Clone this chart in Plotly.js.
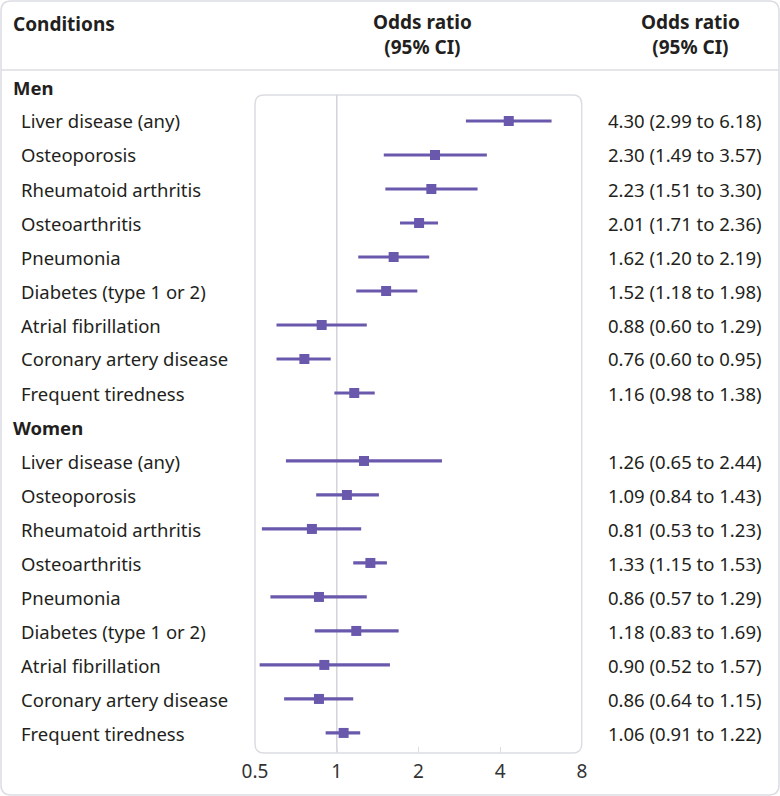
<!DOCTYPE html>
<html><head><meta charset="utf-8">
<script src="https://cdn.plot.ly/plotly-3.0.1.min.js"></script>
<style>html,body{margin:0;padding:0;background:#fff;}#chart{width:780px;height:796px;}</style>
</head><body><div id="chart"></div>
<script>
// ---- data ----
const groups = ["Men", "Women"];
const conditions = ["Liver disease (any)", "Osteoporosis", "Rheumatoid arthritis", "Osteoarthritis", "Pneumonia", "Diabetes (type 1 or 2)", "Atrial fibrillation", "Coronary artery disease", "Frequent tiredness"];
const menOR = [4.30, 2.30, 2.23, 2.01, 1.62, 1.52, 0.88, 0.76, 1.16];
const menLo = [2.99, 1.49, 1.51, 1.71, 1.20, 1.18, 0.60, 0.60, 0.98];
const menHi = [6.18, 3.57, 3.30, 2.36, 2.19, 1.98, 1.29, 0.95, 1.38];
const womenOR = [1.26, 1.09, 0.81, 1.33, 0.86, 1.18, 0.90, 0.86, 1.06];
const womenLo = [0.65, 0.84, 0.53, 1.15, 0.57, 0.83, 0.52, 0.64, 0.91];
const womenHi = [2.44, 1.43, 1.23, 1.53, 1.29, 1.69, 1.57, 1.15, 1.22];
const tickVals = [0.5, 1, 2, 4, 8];
const tickText = ["0.5", "1", "2", "4", "8"];

// ---- layout helpers ----
const W = 780, H = 796;
const M = {l: 255, r: 198, t: 95, b: 43};
const PW = W - M.l - M.r, PH = H - M.t - M.b;
const px = x => (x - M.l) / PW;
const py = y => (H - M.b - y) / PH;
const FONT = "Noto Sans, Open Sans, sans-serif";
const PURPLE = "#6a58ad";
const GREY = "#dcdde3";
const TXT = "#231f20";
const FS = 18.5;
const rowY = i => py(87 + 34 * i);

function roundRect(x0, y0, x1, y1, r) {
  const rx = r / PW, ry = r / PH;
  const X0 = px(x0), X1 = px(x1), Y0 = py(y0), Y1 = py(y1);
  return `M${X0 + rx},${Y0} L${X1 - rx},${Y0} Q${X1},${Y0} ${X1},${Y0 - ry} ` +
         `L${X1},${Y1 + ry} Q${X1},${Y1} ${X1 - rx},${Y1} L${X0 + rx},${Y1} ` +
         `Q${X0},${Y1} ${X0},${Y1 + ry} L${X0},${Y0 - ry} Q${X0},${Y0} ${X0 + rx},${Y0} Z`;
}

const fmt = v => v.toFixed(2);
const traces = [];
const annotations = [];
const series = [[menOR, menLo, menHi], [womenOR, womenLo, womenHi]];
let row = 0;
groups.forEach((g, gi) => {
  annotations.push({xref: "paper", yref: "paper", x: px(11), y: rowY(row), xanchor: "left", yanchor: "middle",
    text: "<b>" + g + "</b>", showarrow: false, font: {family: FONT, size: FS, color: TXT}});
  row++;
  const [or, lo, hi] = series[gi];
  const ys = [];
  conditions.forEach((c, ci) => {
    ys.push(row);
    annotations.push({xref: "paper", yref: "paper", x: px(19), y: rowY(row), xanchor: "left", yanchor: "middle",
      text: c, showarrow: false, font: {family: FONT, size: FS, color: TXT}});
    annotations.push({xref: "paper", yref: "paper", x: px(606), y: rowY(row), xanchor: "left", yanchor: "middle",
      text: fmt(or[ci]) + " (" + fmt(lo[ci]) + " to " + fmt(hi[ci]) + ")", showarrow: false,
      font: {family: FONT, size: FS, color: TXT}});
    row++;
  });
  traces.push({
    type: "scatter", mode: "markers", x: or, y: ys, cliponaxis: false, hoverinfo: "skip",
    marker: {symbol: "square", size: 10, color: PURPLE},
    error_x: {type: "data", symmetric: false,
      array: or.map((v, i) => hi[i] - v), arrayminus: or.map((v, i) => v - lo[i]),
      thickness: 3.2, width: 0, color: PURPLE}
  });
});

// headers
annotations.push({xref: "paper", yref: "paper", x: px(11), y: py(24), xanchor: "left", yanchor: "middle",
  text: "<b>Conditions</b>", showarrow: false, font: {family: FONT, size: 19, color: TXT}});
annotations.push({xref: "paper", yref: "paper", x: px(422), y: py(35), xanchor: "center", yanchor: "middle",
  text: "<b>Odds ratio<br>(95% CI)</b>", showarrow: false, font: {family: FONT, size: 19, color: TXT}});
annotations.push({xref: "paper", yref: "paper", x: px(690), y: py(35), xanchor: "center", yanchor: "middle",
  text: "<b>Odds ratio<br>(95% CI)</b>", showarrow: false, font: {family: FONT, size: 19, color: TXT}});

const shapes = [
  {type: "path", xref: "paper", yref: "paper", path: roundRect(1, 1, 779, 795, 10), line: {color: GREY, width: 1.5}, layer: "below"},
  {type: "line", xref: "paper", yref: "paper", x0: px(1), x1: px(779), y0: py(70), y1: py(70), line: {color: GREY, width: 1.5}},
  {type: "path", xref: "paper", yref: "paper", path: roundRect(255, 95, 581.7, 753, 9), line: {color: GREY, width: 1.5}, layer: "below"},
  {type: "line", xref: "x", yref: "paper", x0: 1, x1: 1, y0: 0, y1: 1, line: {color: "#d4d4da", width: 1.5}, layer: "below"}
];

const layout = {
  width: W, height: H, margin: M, paper_bgcolor: "#fff", plot_bgcolor: "rgba(0,0,0,0)",
  showlegend: false, font: {family: FONT, color: TXT},
  xaxis: {type: "log", range: [Math.log10(0.5), Math.log10(8)], tickvals: tickVals, ticktext: tickText,
    ticks: "inside", ticklen: 6, tickwidth: 1.5, tickcolor: GREY, showgrid: false, zeroline: false, showline: false,
    ticklabelstandoff: 5, tickfont: {family: FONT, size: 19, color: "#333"}, fixedrange: true},
  yaxis: {range: [19.59, 0.235], visible: false, showgrid: false, zeroline: false, fixedrange: true},
  shapes: shapes, annotations: annotations
};
Plotly.newPlot("chart", traces, layout, {displayModeBar: false, staticPlot: true});
</script></body></html>
